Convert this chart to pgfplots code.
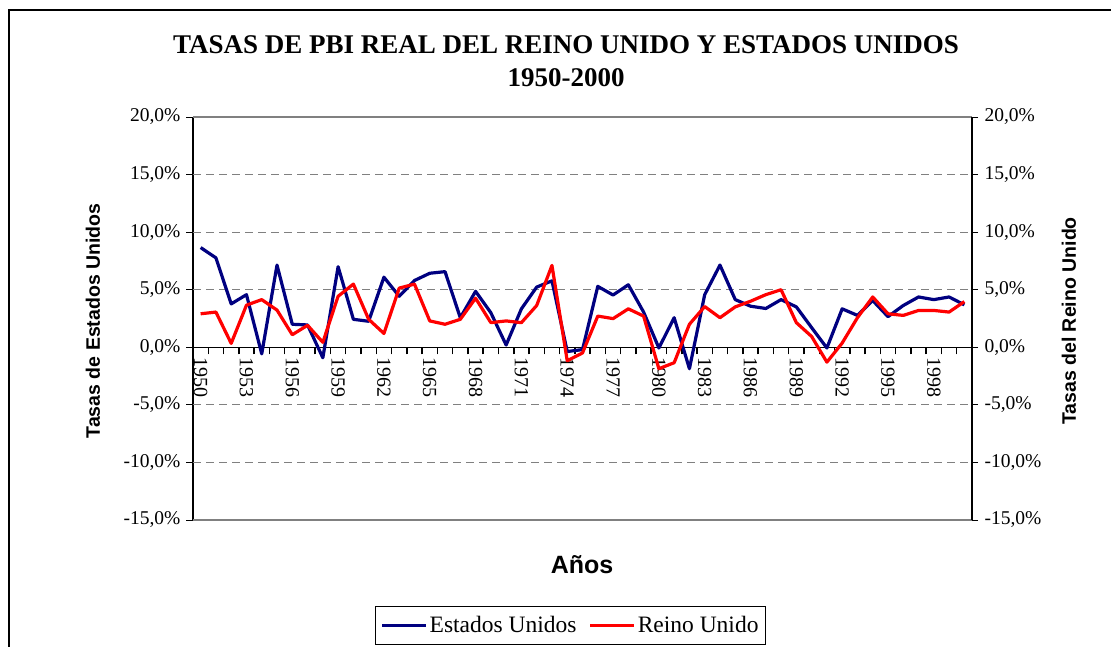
\documentclass[border=0pt]{standalone}
\usepackage{pgfplots}
\usepackage{pgfplotstable}
\pgfplotsset{compat=1.18}
\usepackage{fontspec}
\setmainfont{Liberation Serif}
\newfontfamily\arialfont{Liberation Sans}
\definecolor{usblue}{RGB}{0,0,128}
\definecolor{ukred}{RGB}{255,0,0}
\definecolor{gridgray}{RGB}{128,128,128}

\pgfplotstableread{
year us uk
1950 8.66 2.91
1951 7.77 3.06
1952 3.77 0.34
1953 4.57 3.66
1954 -0.57 4.14
1955 7.14 3.23
1956 2.00 1.09
1957 1.94 1.91
1958 -0.91 0.43
1959 7.00 4.43
1960 2.43 5.49
1961 2.26 2.43
1962 6.09 1.20
1963 4.43 5.14
1964 5.80 5.49
1965 6.43 2.29
1966 6.57 2.00
1967 2.57 2.43
1968 4.86 4.26
1969 3.00 2.14
1970 0.20 2.29
1971 3.34 2.14
1972 5.23 3.63
1973 5.77 7.11
1974 -0.37 -1.17
1975 -0.20 -0.49
1976 5.29 2.71
1977 4.54 2.49
1978 5.43 3.34
1979 3.06 2.71
1980 -0.06 -1.86
1981 2.57 -1.34
1982 -1.86 2.00
1983 4.57 3.54
1984 7.14 2.57
1985 4.14 3.51
1986 3.57 4.00
1987 3.37 4.57
1988 4.14 5.00
1989 3.51 2.14
1990 1.71 0.94
1991 -0.06 -1.29
1992 3.34 0.37
1993 2.77 2.57
1994 4.06 4.37
1995 2.66 2.91
1996 3.63 2.77
1997 4.37 3.20
1998 4.14 3.20
1999 4.37 3.06
2000 3.69 3.97
}\gdpdata

\begin{document}
\begin{tikzpicture}
\useasboundingbox (0pt,0pt) rectangle (1111pt,-646pt);
\fill[white] (0pt,0pt) rectangle (1111pt,-646pt);
\draw[line width=2pt] (9pt,-700pt) -- (9pt,-10pt) -- (1200pt,-10pt);

% title
\node[anchor=base, font=\fontsize{27}{32}\selectfont\bfseries] at (566pt,-53pt) {TASAS DE PBI REAL DEL REINO UNIDO Y ESTADOS UNIDOS};
\node[anchor=base, font=\fontsize{27}{32}\selectfont\bfseries] at (566pt,-86pt) {1950-2000};

% axis titles
\node[rotate=90, font=\fontsize{19.5}{22}\selectfont\arialfont\bfseries] at (93pt,-321pt) {Tasas de Estados Unidos};
\node[rotate=90, font=\fontsize{19.5}{22}\selectfont\arialfont\bfseries] at (1069pt,-321pt) {Tasas del Reino Unido};
\node[anchor=base, font=\fontsize{25}{28}\selectfont\arialfont\bfseries] at (582pt,-573pt) {Años};

\begin{axis}[
  at={(193pt,-520pt)}, anchor=south west,
  scale only axis, width=779pt, height=403pt,
  xmin=1949.5, xmax=2000.5, ymin=-15, ymax=20,
  axis y line*=left, axis x line*=middle,
  axis line style={black, line width=1.3pt},
  xtick={1949.5,1950.5,...,2000.5},
  xticklabels={},
  x tick style={black, line width=1.5pt, yshift=-3.5pt},
  xtick align=center,
  extra x ticks={1950,1953,...,1998},
  extra x tick labels={1950,1953,1956,1959,1962,1965,1968,1971,1974,1977,1980,1983,1986,1989,1992,1995,1998},
  extra x tick style={major tick length=0pt, xticklabel style={rotate=-90, anchor=west, font=\fontsize{20}{22}\selectfont, xshift=7pt}},
  ytick={-15,-10,-5,0,5,10,15,20},
  yticklabels={{-15,0\%},{-10,0\%},{-5,0\%},{0,0\%},{5,0\%},{10,0\%},{15,0\%},{20,0\%}},
  ytick align=outside,
  major tick length=7pt,
  y tick style={black, line width=1pt},
  yticklabel style={font=\fontsize{19.5}{22}\selectfont, xshift=-2pt},
  extra y ticks={-10,-5,5,10,15},
  extra y tick labels={},
  extra y tick style={grid=major, major grid style={gridgray, line width=1pt, dash pattern=on 8pt off 5pt}},
  clip=false,
  legend columns=2,
  legend style={at={(0.4846,-0.2134)}, anchor=north, draw=black, line width=1pt,
    font=\fontsize{23.5}{25}\selectfont, inner xsep=5pt, inner ysep=8pt,
    /tikz/every even column/.append style={column sep=10pt}},
  legend image code/.code={\draw[#1, line width=3.2pt] (0pt,0pt) -- (44pt,0pt);},
]
\draw[gridgray, line width=1.2pt] (rel axis cs:0,1) -- (rel axis cs:1,1);
\draw[gridgray, line width=1.2pt] (rel axis cs:0,0) -- (rel axis cs:1,0);
\addplot[usblue, line width=3.2pt, line join=round, no marks] table[x=year, y=us] {\gdpdata};
\addlegendentry{Estados Unidos}
\addplot[ukred, line width=3.2pt, line join=round, no marks] table[x=year, y=uk] {\gdpdata};
\addlegendentry{Reino Unido}
\end{axis}

\begin{axis}[
  at={(193pt,-520pt)}, anchor=south west,
  scale only axis, width=779pt, height=403pt,
  xmin=1949.5, xmax=2000.5, ymin=-15, ymax=20,
  axis y line*=right, axis x line=none,
  axis line style={black, line width=1.3pt},
  ytick={-15,-10,-5,0,5,10,15,20},
  yticklabels={{-15,0\%},{-10,0\%},{-5,0\%},{0,0\%},{5,0\%},{10,0\%},{15,0\%},{20,0\%}},
  ytick align=outside,
  major tick length=6pt,
  y tick style={black, line width=1pt},
  yticklabel style={font=\fontsize{19.5}{22}\selectfont, xshift=3pt},
]
\end{axis}
\end{tikzpicture}
\end{document}
